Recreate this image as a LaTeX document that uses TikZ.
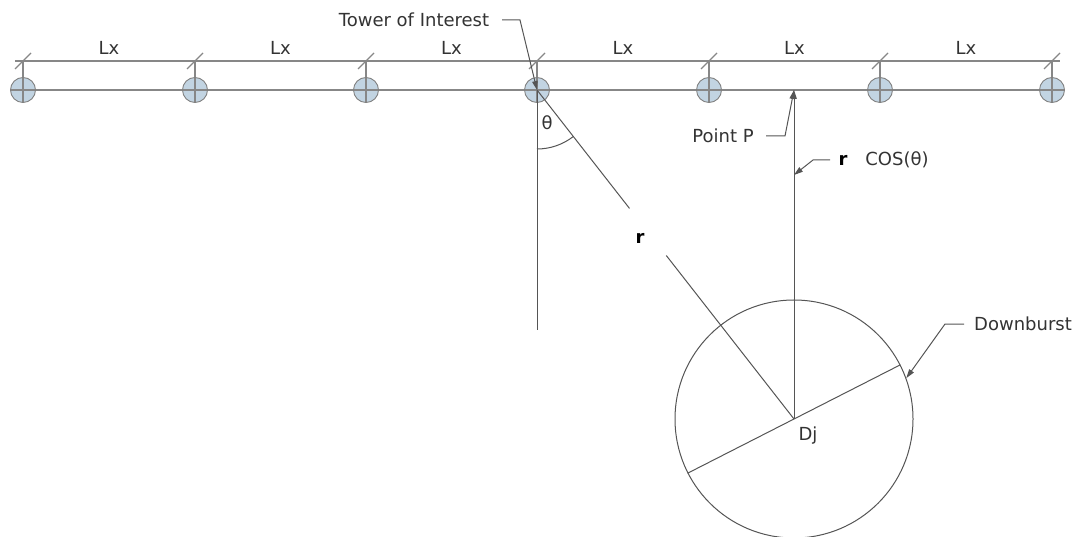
\documentclass[tikz,border=0pt]{standalone}
\usepackage{fontspec}
\setmainfont{DejaVu Sans}
\usetikzlibrary{arrows.meta,calc,backgrounds}
\definecolor{towerfill}{RGB}{194,212,226}
\definecolor{towerline}{RGB}{135,135,135}
\definecolor{mainline}{RGB}{85,85,85}
\begin{document}
\begin{tikzpicture}[x=1pt,y=-1pt,
  tline/.style={draw=towerline, line width=1.2pt},
  ln/.style={draw=mainline, line width=1pt},
  tower/.style={circle, draw=black!50, fill=towerfill, minimum size=25pt, inner sep=0pt, line width=0.9pt,
    path picture={\draw[towerline, line width=1.1pt] (path picture bounding box.north) -- (path picture bounding box.south)
      (path picture bounding box.west) -- (path picture bounding box.east);}},
  lbl/.style={font=\fontsize{18}{21}\selectfont, inner sep=0pt, text=black!80},
  arr/.style={ln, -{Triangle[length=9pt,width=5.5pt]}}]
\useasboundingbox (0,0) rectangle (1076,537);

% towers
\foreach \i/\x in {1/23,2/195,3/366,4/537,5/709,6/880,7/1052}{
  \node[tower] (t\i) at (\x,90) {};
  \coordinate (d\i) at (\x,61);
}
\begin{scope}[on background layer]
  \draw[tline] (t1.west) -- (t7.east);
  \draw[tline] ($(d1)+(-8,0)$) -- ($(d7)+(8,0)$);
  \foreach \i in {1,...,7}{
    \draw[tline] (d\i) -- (t\i.center);
    \draw[tline] ($(d\i)+(-8,8)$) -- ($(d\i)+(8,-8)$);
  }
\end{scope}

% Lx labels
\foreach \i/\j in {1/2,2/3,3/4,4/5,5/6,6/7}{
  \node[lbl] (lx\i) at ($($(d\i)!0.5!(d\j)$)+(0,-13)$) {Lx};
}

% tower of interest
\node[lbl] (toi) at (414,20) {Tower of Interest};
\coordinate (toiA) at (502,20);
\coordinate (toiB) at (520,20);
\draw[arr] (toiA) -- (toiB) -- (t4.center);

% key points
\coordinate (Dj) at (794,419);
\coordinate (vEnd) at (537,330);
\coordinate (P) at (794,90);

% vertical from tower and the r line
\draw[ln] (t4.center) -- (vEnd);
\draw[ln] (t4.center) -- ($(t4.center)!0.36!(Dj)$);
\draw[ln] ($(t4.center)!0.503!(Dj)$) -- (Dj);
\node[lbl, font=\fontsize{18}{21}\selectfont\bfseries, text=black] (rlbl) at (640,238) {r};

% theta arc
\coordinate (thA) at ($(t4.center)!59pt!(vEnd)$);
\coordinate (thB) at ($(t4.center)!59pt!(Dj)$);
\draw[ln] (thA) .. controls ($(thA)+(13.2,0)$) and ($(thB)+(-10.4,8.1)$) .. (thB);
\node[lbl] (theta) at (547,123) {θ};

% downburst circle
\node[circle, draw=mainline, line width=1pt, minimum size=238pt, inner sep=0pt] (burst) at (Dj) {};
\draw[ln] (burst.27) -- (burst.207);
\draw[arr] (Dj) -- (P);
\node[lbl] (dj) at (808,436) {Dj};

% Point P
\node[lbl] (pp) at (723,136) {Point P};
\coordinate (ppA) at (766,136);
\coordinate (ppB) at (785,136);
\draw[arr] (ppA) -- (ppB) -- (P);

% r cos(theta)
\node[lbl, font=\fontsize{18}{21}\selectfont\bfseries, text=black] (rc1) at (843,160) {r};
\node[lbl] (rc2) at (897,160) {COS(θ)};
\coordinate (rcA) at (830,160);
\coordinate (rcB) at (813,160);
\coordinate (rcT) at (794,175);
\draw[arr] (rcA) -- (rcB) -- (rcT);

% downburst label
\node[lbl] (db) at (1023,324) {Downburst};
\coordinate (dbA) at (964,324);
\coordinate (dbB) at (945,324);
\draw[arr] (dbA) -- (dbB) -- (burst.20);
\end{tikzpicture}
\end{document}
